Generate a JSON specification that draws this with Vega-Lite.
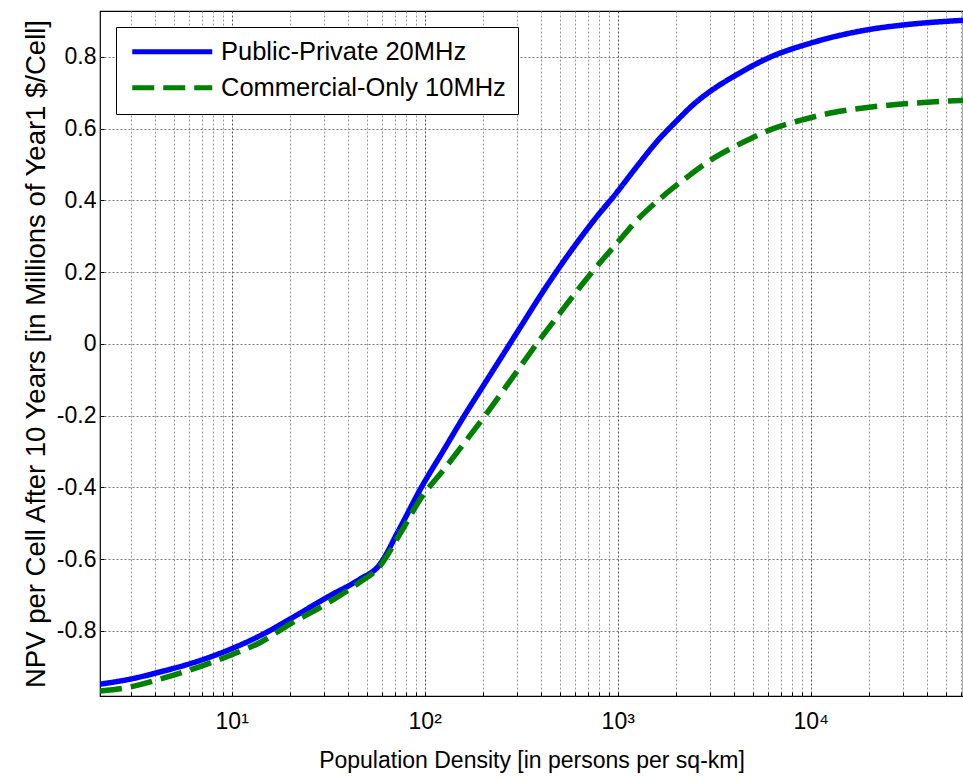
{
  "$schema": "https://vega.github.io/schema/vega-lite/v6.json",
  "width": 863,
  "height": 685,
  "autosize": {"type": "none"},
  "padding": {"left": 100, "top": 11, "right": 0, "bottom": 82},
  "background": "white",
  "config": {
    "font": "Liberation Sans",
    "view": {"stroke": "black", "strokeWidth": 1.2},
    "axis": {
      "domain": false,
      "labelFont": "Liberation Sans",
      "titleFont": "Liberation Sans",
      "labelFontSize": 23,
      "titleFontSize": 23,
      "titleFontWeight": "normal",
      "labelColor": "black",
      "titleColor": "black",
      "tickColor": "black",
      "gridDash": [2, 2],
      "gridWidth": 1,
      "gridOpacity": 1
    },
    "legend": {
      "orient": "none",
      "legendX": 16,
      "legendY": 16,
      "fillColor": "white",
      "strokeColor": "black",
      "strokeWidth": 1,
      "padding": 12,
      "labelFont": "Liberation Sans",
      "labelFontSize": 25.5,
      "labelColor": "black",
      "labelLimit": 0,
      "labelOffset": 36,
      "symbolOffset": 31.5,
      "rowPadding": 9,
      "symbolType": "M-4,0H4",
      "symbolSize": 400,
      "symbolStrokeWidth": 5,
      "title": null
    }
  },
  "data": {
    "values": [
      {"s": "Public-Private 20MHz", "x": 2.078, "y": -0.949},
      {"s": "Public-Private 20MHz", "x": 2.972, "y": -0.935},
      {"s": "Public-Private 20MHz", "x": 4.246, "y": -0.915},
      {"s": "Public-Private 20MHz", "x": 6.855, "y": -0.883},
      {"s": "Public-Private 20MHz", "x": 10, "y": -0.85},
      {"s": "Public-Private 20MHz", "x": 14.13, "y": -0.813},
      {"s": "Public-Private 20MHz", "x": 19.95, "y": -0.768},
      {"s": "Public-Private 20MHz", "x": 31.62, "y": -0.705},
      {"s": "Public-Private 20MHz", "x": 46.24, "y": -0.656},
      {"s": "Public-Private 20MHz", "x": 57.54, "y": -0.62},
      {"s": "Public-Private 20MHz", "x": 74.47, "y": -0.513},
      {"s": "Public-Private 20MHz", "x": 95.7, "y": -0.402},
      {"s": "Public-Private 20MHz", "x": 125.9, "y": -0.295},
      {"s": "Public-Private 20MHz", "x": 158.5, "y": -0.205},
      {"s": "Public-Private 20MHz", "x": 199.5, "y": -0.12},
      {"s": "Public-Private 20MHz", "x": 251.2, "y": -0.035},
      {"s": "Public-Private 20MHz", "x": 316.2, "y": 0.05},
      {"s": "Public-Private 20MHz", "x": 398.1, "y": 0.135},
      {"s": "Public-Private 20MHz", "x": 501.2, "y": 0.215},
      {"s": "Public-Private 20MHz", "x": 631, "y": 0.29},
      {"s": "Public-Private 20MHz", "x": 794.3, "y": 0.36},
      {"s": "Public-Private 20MHz", "x": 946.2, "y": 0.409},
      {"s": "Public-Private 20MHz", "x": 1259, "y": 0.495},
      {"s": "Public-Private 20MHz", "x": 1585, "y": 0.562},
      {"s": "Public-Private 20MHz", "x": 2032, "y": 0.623},
      {"s": "Public-Private 20MHz", "x": 2512, "y": 0.671},
      {"s": "Public-Private 20MHz", "x": 3013, "y": 0.704},
      {"s": "Public-Private 20MHz", "x": 4064, "y": 0.748},
      {"s": "Public-Private 20MHz", "x": 6026, "y": 0.797},
      {"s": "Public-Private 20MHz", "x": 9931, "y": 0.838},
      {"s": "Public-Private 20MHz", "x": 19860, "y": 0.876},
      {"s": "Public-Private 20MHz", "x": 30130, "y": 0.889},
      {"s": "Public-Private 20MHz", "x": 61520, "y": 0.902},
      {"s": "Commercial-Only 10MHz", "x": 2.078, "y": -0.968},
      {"s": "Commercial-Only 10MHz", "x": 2.972, "y": -0.957},
      {"s": "Commercial-Only 10MHz", "x": 4.246, "y": -0.935},
      {"s": "Commercial-Only 10MHz", "x": 6.855, "y": -0.9},
      {"s": "Commercial-Only 10MHz", "x": 10, "y": -0.867},
      {"s": "Commercial-Only 10MHz", "x": 14.13, "y": -0.832},
      {"s": "Commercial-Only 10MHz", "x": 19.95, "y": -0.782},
      {"s": "Commercial-Only 10MHz", "x": 31.62, "y": -0.722},
      {"s": "Commercial-Only 10MHz", "x": 46.24, "y": -0.664},
      {"s": "Commercial-Only 10MHz", "x": 57.54, "y": -0.625},
      {"s": "Commercial-Only 10MHz", "x": 74.47, "y": -0.53},
      {"s": "Commercial-Only 10MHz", "x": 95.7, "y": -0.43},
      {"s": "Commercial-Only 10MHz", "x": 125.9, "y": -0.35},
      {"s": "Commercial-Only 10MHz", "x": 158.5, "y": -0.28},
      {"s": "Commercial-Only 10MHz", "x": 208.9, "y": -0.195},
      {"s": "Commercial-Only 10MHz", "x": 281.8, "y": -0.098},
      {"s": "Commercial-Only 10MHz", "x": 380.2, "y": 0.0},
      {"s": "Commercial-Only 10MHz", "x": 501.2, "y": 0.085},
      {"s": "Commercial-Only 10MHz", "x": 631, "y": 0.155},
      {"s": "Commercial-Only 10MHz", "x": 736.2, "y": 0.2},
      {"s": "Commercial-Only 10MHz", "x": 1000, "y": 0.283},
      {"s": "Commercial-Only 10MHz", "x": 1259, "y": 0.345},
      {"s": "Commercial-Only 10MHz", "x": 1660, "y": 0.405},
      {"s": "Commercial-Only 10MHz", "x": 2317, "y": 0.467},
      {"s": "Commercial-Only 10MHz", "x": 3126, "y": 0.517},
      {"s": "Commercial-Only 10MHz", "x": 4467, "y": 0.562},
      {"s": "Commercial-Only 10MHz", "x": 6397, "y": 0.6},
      {"s": "Commercial-Only 10MHz", "x": 8831, "y": 0.623},
      {"s": "Commercial-Only 10MHz", "x": 13090, "y": 0.645},
      {"s": "Commercial-Only 10MHz", "x": 19630, "y": 0.659},
      {"s": "Commercial-Only 10MHz", "x": 33960, "y": 0.671},
      {"s": "Commercial-Only 10MHz", "x": 61520, "y": 0.679}
    ]
  },
  "mark": {"type": "line", "strokeWidth": 5.5, "interpolate": "monotone", "clip": true},
  "encoding": {
    "x": {
      "field": "x",
      "type": "quantitative",
      "scale": {"type": "log", "domain": [2.078, 61520], "nice": false},
      "axis": {
        "title": "Population Density [in persons per sq-km]",
        "titlePadding": 16,
        "values": [3,4,5,6,7,8,9,10,20,30,40,50,60,70,80,90,100,200,300,400,500,600,700,800,900,1000,2000,3000,4000,5000,6000,7000,8000,9000,10000,20000,30000,40000,50000,60000],
        "labelExpr": "datum.value == 10 ? '10¹' : datum.value == 100 ? '10²' : datum.value == 1000 ? '10³' : datum.value == 10000 ? '10⁴' : ''",
        "labelPadding": 18,
        "tickSize": -4,
        "gridColor": {"condition": {"test": "datum.value == 10 || datum.value == 100 || datum.value == 1000 || datum.value == 10000", "value": "#555555"}, "value": "#999999"}
      }
    },
    "y": {
      "field": "y",
      "type": "quantitative",
      "scale": {"domain": [-0.982, 0.928], "nice": false, "zero": false},
      "axis": {
        "title": "NPV per Cell After 10 Years [in Millions of Year1 $/Cell]",
        "titleFontSize": 27.5,
        "titlePadding": 6,
        "values": [-0.8, -0.6, -0.4, -0.2, 0, 0.2, 0.4, 0.6, 0.8],
        "labelExpr": "datum.value == 0 ? '0' : (datum.value < 0 ? '-' + format(-datum.value, '.1f') : format(datum.value, '.1f'))",
        "labelPadding": 8,
        "tickSize": -4,
        "gridColor": "#777777"
      }
    },
    "color": {
      "field": "s",
      "type": "nominal",
      "scale": {"domain": ["Public-Private 20MHz", "Commercial-Only 10MHz"], "range": ["#0000ff", "#008000"]},
      "legend": {"title": null}
    },
    "strokeDash": {
      "field": "s",
      "type": "nominal",
      "scale": {"domain": ["Public-Private 20MHz", "Commercial-Only 10MHz"], "range": [[1, 0], [22, 9]]},
      "legend": {"title": null}
    }
  }
}
